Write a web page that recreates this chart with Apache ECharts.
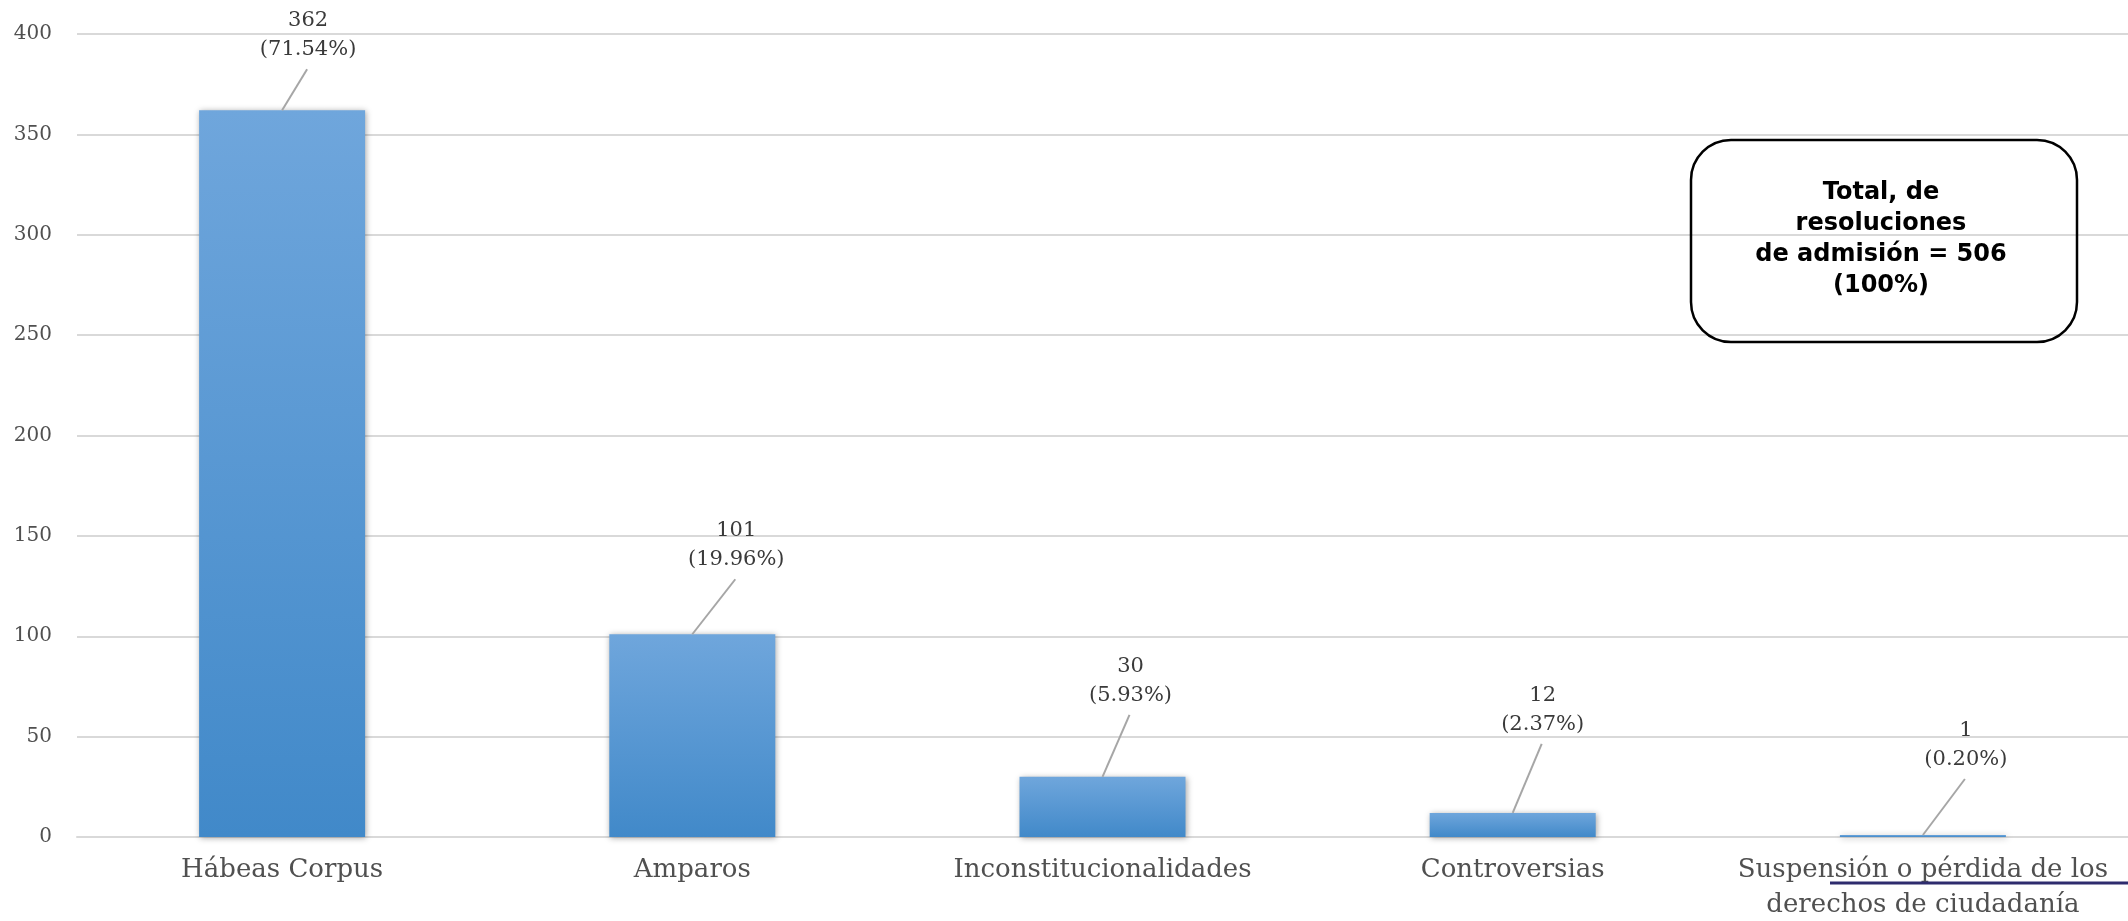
<!DOCTYPE html>
<html>
<head>
<meta charset="utf-8">
<script src="https://cdn.jsdelivr.net/npm/echarts@6/dist/echarts.min.js"></script>
<style>
html,body{margin:0;padding:0;background:#fff;}
#chart{width:2128px;height:921px;}
</style>
</head>
<body>
<div id="chart"></div>
<script>
// ---- data ----
const categories = ['Hábeas Corpus', 'Amparos', 'Inconstitucionalidades', 'Controversias', 'Suspensión o pérdida de los\nderechos de ciudadanía'];
const values = [362, 101, 30, 12, 1];
const percents = ['71.54%', '19.96%', '5.93%', '2.37%', '0.20%'];
const yMin = 0, yMax = 400, yInterval = 50;
const totalLabel = 'Total, de\nresoluciones\nde admisión = ';
const totalPercent = '(100%)';

// ---- label leader-line offsets (pixels, styling only) ----
const leaderOffsets = [[25, -41], [43, -55], [27, -62], [29, -69], [42, -56]];

const total = values.reduce((a, b) => a + b, 0);
const serif = 'DejaVu Serif';

const chart = echarts.init(document.getElementById('chart'), null, {renderer: 'canvas'});
chart.setOption({
  animation: false,
  backgroundColor: '#ffffff',
  grid: {left: 77, right: 0, top: 34, bottom: 84, containLabel: false, outerBoundsMode: 'none'},
  xAxis: {
    type: 'category',
    data: categories,
    axisTick: {show: false},
    axisLine: {lineStyle: {color: '#d9d9d9', width: 2}},
    axisLabel: {
      interval: 0, color: '#505050', fontFamily: serif, fontSize: 26,
      lineHeight: 35, margin: 16
    }
  },
  yAxis: {
    type: 'value', min: yMin, max: yMax, interval: yInterval,
    axisLine: {show: false}, axisTick: {show: false},
    axisLabel: {color: '#505050', fontFamily: serif, fontSize: 20, margin: 25},
    splitLine: {lineStyle: {color: '#d9d9d9', width: 2}}
  },
  series: [
    {
      type: 'bar',
      data: values,
      barWidth: 166,
      itemStyle: {
        color: new echarts.graphic.LinearGradient(0, 0, 0, 1, [
          {offset: 0, color: '#6fa6dc'},
          {offset: 1, color: '#4189c9'}
        ]),
        shadowBlur: 6, shadowColor: 'rgba(0,0,0,0.35)', shadowOffsetX: 1, shadowOffsetY: 1
      },
      z: 2
    },
    {
      type: 'custom',
      data: values.map((v, i) => [i, v]),
      z: 5,
      renderItem: function (params, api) {
        const i = params.dataIndex;
        const p = api.coord([api.value(0), api.value(1)]);
        const off = leaderOffsets[i];
        const ex = p[0] + off[0], ey = p[1] + off[1];
        return {
          type: 'group',
          children: [
            {type: 'line', shape: {x1: p[0], y1: p[1], x2: ex, y2: ey},
             style: {stroke: '#a6a6a6', lineWidth: 2}},
            {type: 'text', x: ex + 1, y: ey - 5,
             style: {text: values[i] + '\n(' + percents[i] + ')', fill: '#3a3a3a',
                     fontFamily: serif, fontSize: 21, lineHeight: 29,
                     align: 'center', verticalAlign: 'bottom'}}
          ]
        };
      }
    }
  ],
  graphic: [
    {type: 'rect', shape: {x: 1691, y: 140, width: 386, height: 202, r: 40},
     style: {fill: null, stroke: '#000', lineWidth: 2.5}, z: 10},
    {type: 'text', x: 1881, y: 239,
     style: {text: totalLabel + total + '\n' + totalPercent, fill: '#000',
             fontFamily: 'DejaVu Sans', fontWeight: 'bold', fontSize: 24, lineHeight: 31,
             align: 'center', verticalAlign: 'middle'}, z: 10},
    {type: 'line', shape: {x1: 1830, y1: 883, x2: 2128, y2: 883},
     style: {stroke: '#2e2c6e', lineWidth: 3}, z: 10}
  ]
});
</script>
</body>
</html>
